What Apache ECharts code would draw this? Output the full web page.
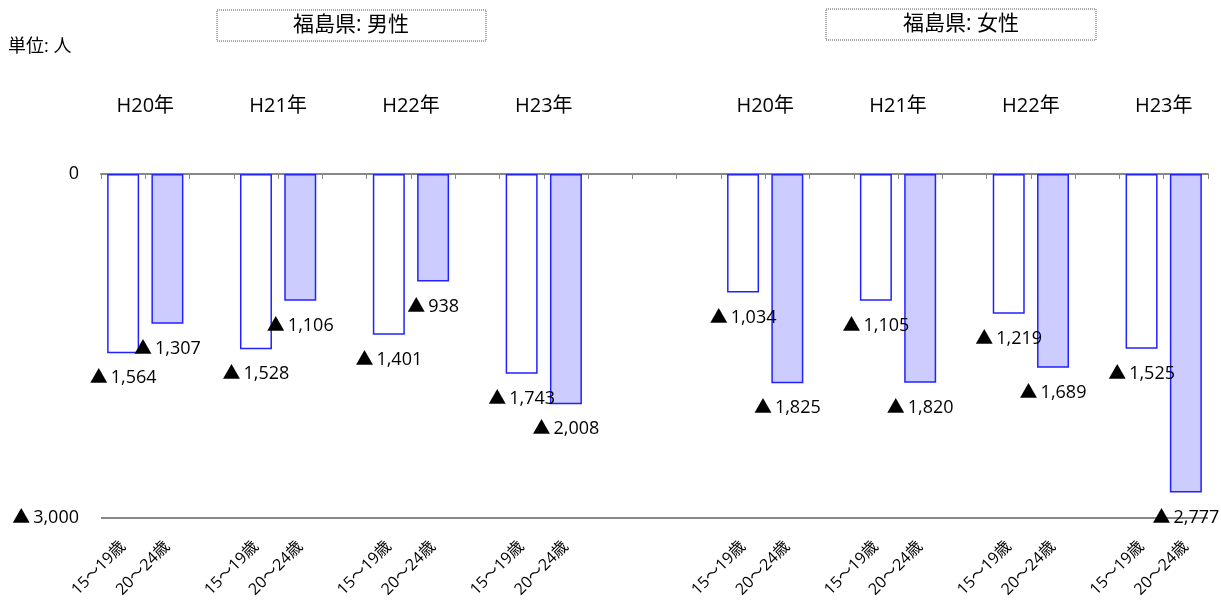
<!DOCTYPE html>
<html><head><meta charset="utf-8">
<script src="https://cdn.jsdelivr.net/npm/echarts@6/dist/echarts.min.js"></script>
<style>html,body{margin:0;padding:0;background:#fff}#c{width:1221px;height:603px}</style>
</head><body><div id="c"></div>
<script>
const years = ['H20年', 'H21年', 'H22年', 'H23年'];
const ageGroups = ['15～19歳', '20～24歳'];
const sectionTitles = ['福島県: 男性', '福島県: 女性'];
const unitLabel = '単位: 人';
const male1519 = [-1564, -1528, -1401, -1743];
const male2024 = [-1307, -1106, -938, -2008];
const female1519 = [-1034, -1105, -1219, -1525];
const female2024 = [-1825, -1820, -1689, -2777];
const yMin = -3000, yMax = 0, yStep = 3000;

const FONT = '"Open Sans", "Noto Sans CJK JP", sans-serif';
const cats = [], s1519 = [], s2024 = [], groupStarts = [];
function addSection(a, b, trailingBlanks) {
  years.forEach((y, i) => {
    groupStarts.push(cats.length);
    cats.push(ageGroups[0]); s1519.push(a[i]); s2024.push('-');
    cats.push(ageGroups[1]); s1519.push('-'); s2024.push(b[i]);
    if (i < years.length - 1) { cats.push(''); s1519.push('-'); s2024.push('-'); }
  });
  for (let k = 0; k < trailingBlanks; k++) { cats.push(''); s1519.push('-'); s2024.push('-'); }
}
addSection(male1519, male2024, 3);
addSection(female1519, female2024, 0);
// half-step axis for year labels centred between the two bars of a group
const yearCats = new Array(cats.length * 2 + 1).fill('');
groupStarts.forEach((g, k) => { yearCats[2 * (g + 1)] = years[k % years.length]; });

const fmt = v => v === 0 ? '0' : '▲\u2009' + Math.abs(v).toLocaleString('en-US');
const barLabel = {
  show: true, position: 'bottom', distance: 16, color: '#000',
  fontSize: 18, fontFamily: FONT, formatter: p => fmt(p.value)
};

const chart = echarts.init(document.getElementById('c'));
chart.setOption({
  animation: false,
  backgroundColor: '#fff',
  grid: { left: 101, right: 13, top: 174, bottom: 85, containLabel: false },
  graphic: [
    { type: 'text', left: 8, top: 38, style: { text: unitLabel, fontSize: 18, fontFamily: FONT, fill: '#000' } },
    { type: 'rect', shape: { x: 217, y: 10, width: 269, height: 31 }, style: { fill: '#fff', stroke: '#555', lineWidth: 1, lineDash: [1, 1] } },
    { type: 'text', x: 351, y: 25, style: { text: sectionTitles[0], fontSize: 21, fontFamily: FONT, fill: '#000', align: 'center', verticalAlign: 'middle' } },
    { type: 'rect', shape: { x: 826, y: 9, width: 270, height: 31 }, style: { fill: '#fff', stroke: '#555', lineWidth: 1, lineDash: [1, 1] } },
    { type: 'text', x: 961, y: 24, style: { text: sectionTitles[1], fontSize: 21, fontFamily: FONT, fill: '#000', align: 'center', verticalAlign: 'middle' } }
  ],
  xAxis: [
    { type: 'category', data: cats, position: 'bottom',
      axisLine: { show: false }, axisTick: { show: false },
      axisLabel: { interval: 0, rotate: 45, margin: 26, fontSize: 16, fontFamily: FONT, color: '#000' } },
    { type: 'category', data: cats, position: 'top',
      axisLine: { show: true, onZero: false, lineStyle: { color: '#888', width: 2 } },
      axisTick: { show: true, inside: true, length: 5, interval: 0, lineStyle: { color: '#888', width: 1 } },
      axisLabel: { show: false } },
    { type: 'category', data: yearCats, position: 'top', boundaryGap: false,
      axisLine: { show: false }, axisTick: { show: false },
      axisLabel: { interval: 0, margin: 58, fontSize: 20, fontFamily: FONT, color: '#000' } }
  ],
  yAxis: {
    type: 'value', min: yMin, max: yMax, interval: yStep,
    axisLine: { show: false }, axisTick: { show: false },
    axisLabel: { formatter: fmt, fontSize: 18, fontFamily: FONT, color: '#000', margin: 22 },
    splitLine: { show: true, lineStyle: { color: '#888', width: 2 } }
  },
  series: [
    { name: ageGroups[0], type: 'bar', xAxisIndex: 0, data: s1519, barWidth: 32, barGap: '-100%',
      itemStyle: { color: '#ffffff', borderColor: '#2222ff', borderWidth: 1.5 }, label: barLabel },
    { name: ageGroups[1], type: 'bar', xAxisIndex: 0, data: s2024, barWidth: 32, barGap: '-100%',
      itemStyle: { color: '#ccccff', borderColor: '#2222ff', borderWidth: 1.5 }, label: barLabel }
  ]
});
</script></body></html>
